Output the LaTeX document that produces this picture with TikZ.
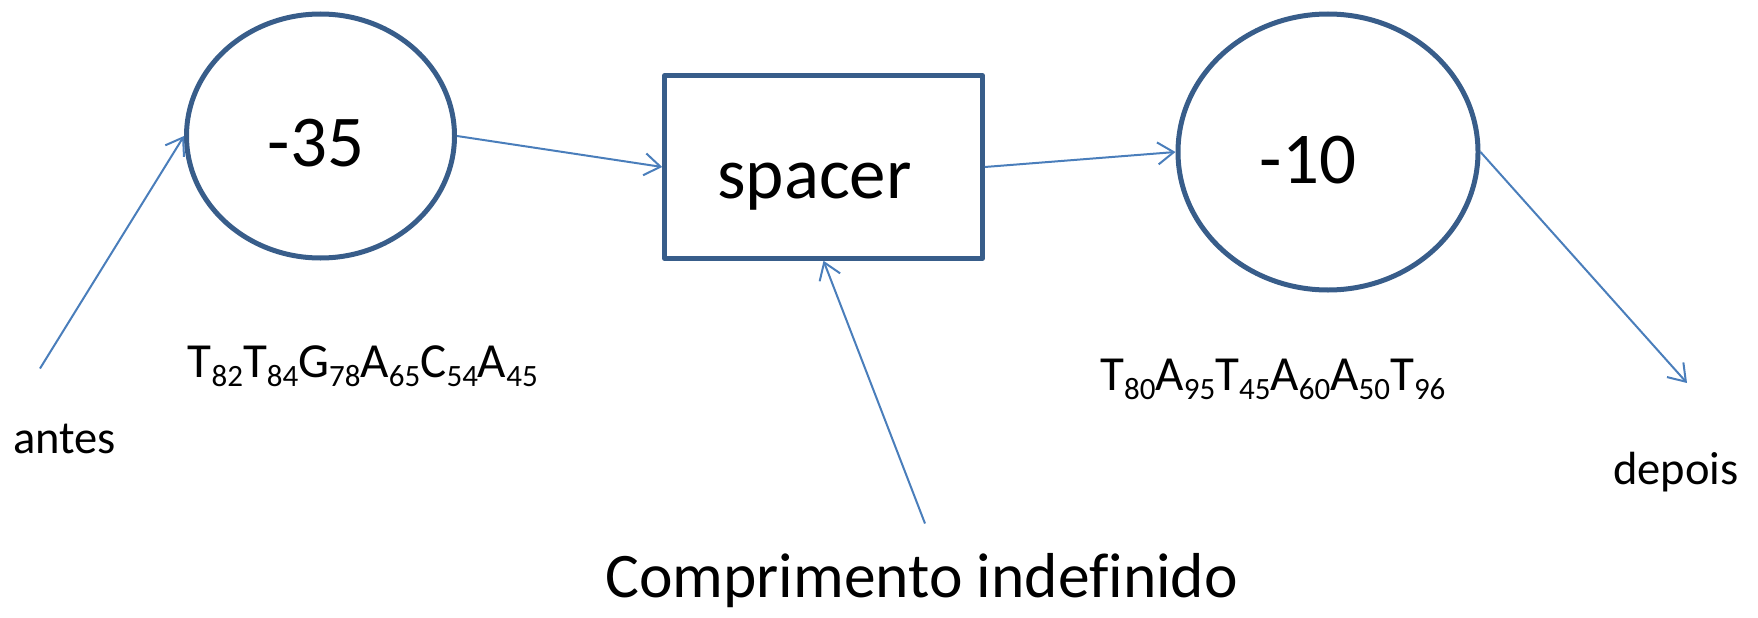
\documentclass[tikz,border=0pt]{standalone}
\usepackage{fontspec}
\setmainfont{Carlito}[Ligatures=CommonOff]
\usetikzlibrary{arrows.meta,shapes.geometric}
\definecolor{outl}{HTML}{385D8A}
\definecolor{conn}{HTML}{4A7EBB}
\newcommand\lo[1]{\raisebox{-9pt}{\fontsize{31}{31}\selectfont #1}}
\tikzset{
  blob/.style={ellipse, draw=outl, line width=5pt, inner sep=0pt},
  boxnode/.style={rectangle, draw=outl, line width=4.5pt, inner sep=0pt, line join=round},
  conarrow/.style={draw=conn, line width=2pt, -{Straight Barb[length=16pt,width=22pt,line width=2pt]}},
  big/.style={font=\fontsize{73}{80}\selectfont, anchor=base, inner sep=0pt},
  seq/.style={font=\fontsize{49}{55}\selectfont, anchor=base west, inner sep=0pt},
  small/.style={font=\fontsize{46.5}{52}\selectfont, anchor=base west, inner sep=0pt}
}
\begin{document}
\begin{tikzpicture}[x=1pt, y=-1pt]
\path[use as bounding box] (0,0) rectangle (1758,618);
% shapes
\node[blob, minimum width=268pt, minimum height=244pt] (m35) at (320.5,136) {};
\node[boxnode, minimum width=318pt, minimum height=183pt] (sp) at (823.5,167) {};
\node[blob, minimum width=300pt, minimum height=276pt] (m10) at (1328,152) {};
% texts
\node[big] (t35) at (316,166) {-35};
\node[big] (tsp) at (814.5,198) {spacer};
\node[big] (t10) at (1308,183) {-10};
\node[seq] (s1) at (187.5,377) {T\lo{82}T\lo{84}G\lo{78}A\lo{65}C\lo{54}A\lo{45}};
\node[seq] (s2) at (1100,390.5) {T\lo{80}A\lo{95}T\lo{45}A\lo{60}A\lo{50}T\lo{96}};
\node[small] (antes) at (13,453.5) {antes};
\node[small] (depois) at (1613,484) {depois};
\node[font=\fontsize{63.5}{70}\selectfont, anchor=base west, inner sep=0pt] (comp) at (605,597) {Comprimento indefinido};
% free ends
\coordinate (a0) at (40,368.5);
\coordinate (d1) at (1687,383);
\coordinate (c0) at (925,523.5);
% connectors
\draw[conarrow] (a0) -- (m35.west);
\draw[conarrow] (m35.east) -- (sp.west);
\draw[conarrow] (sp.east) -- (m10.west);
\draw[conarrow] (m10.east) -- (d1);
\draw[conarrow] (c0) -- (sp.south);
\end{tikzpicture}
\end{document}
